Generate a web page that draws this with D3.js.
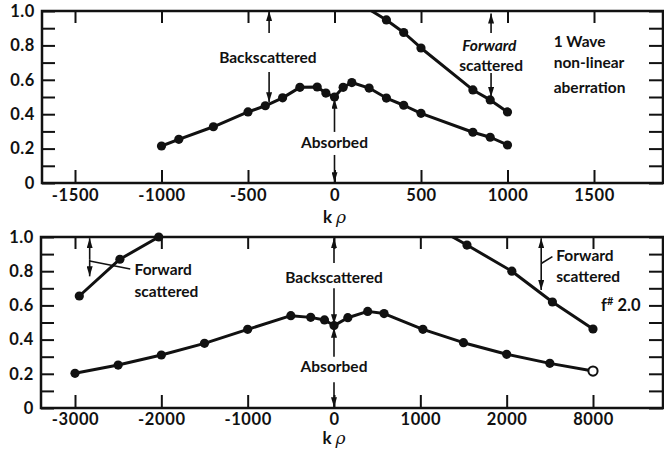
<!DOCTYPE html>
<html>
<head>
<meta charset="utf-8">
<script src="https://cdn.jsdelivr.net/npm/d3@7/dist/d3.min.js"></script>
<style>
  html, body { margin: 0; padding: 0; background: #fff; }
  svg { display: block; }
  text { font-family: Lato, "DejaVu Sans", sans-serif; font-weight: 700; fill: #111; }
</style>
</head>
<body>
<svg id="chart" width="664" height="453"></svg>
<script>
// ---- 1 wave non-linear aberration (upper panel) ----
const topAbsK   = [-1000, -900, -700, -500, -400, -300, -200, -100, -50, 0, 50, 100, 200, 300, 400, 500, 800, 900, 1000];
const topAbsV   = [0.215, 0.254, 0.327, 0.413, 0.449, 0.495, 0.556, 0.558, 0.523, 0.50, 0.556, 0.584, 0.552, 0.494, 0.452, 0.405, 0.295, 0.266, 0.221];
const topFwdK   = [150, 300, 400, 500, 800, 900, 1000];
const topFwdV   = [1.04, 0.948, 0.875, 0.785, 0.541, 0.483, 0.413];
const topXTicks = [-1500, -1000, -500, 0, 500, 1000, 1500];

// ---- f# 2.0 (lower panel) ----
const botAbsK   = [-3000, -2500, -2000, -1500, -1000, -500, -270, -110, 0, 160, 390, 580, 1030, 1500, 2000, 2500, 3000];
const botAbsV   = [0.203, 0.251, 0.31, 0.378, 0.46, 0.54, 0.53, 0.515, 0.482, 0.528, 0.565, 0.552, 0.46, 0.382, 0.314, 0.261, 0.216];
const botFwdLK  = [-2950, -2480, -2030];
const botFwdLV  = [0.655, 0.87, 1.0];
const botFwdRK  = [1200, 1540, 2060, 2530, 3000];
const botFwdRV  = [1.05, 0.953, 0.80, 0.62, 0.462];
const botXTicks = [-3000, -2000, -1000, 0, 1000, 2000, 3000];
const botXLabels = ["-3000", "-2000", "-1000", "0", "1000", "2000", "8000"];

const yTicks = [0, 0.1, 0.2, 0.3, 0.4, 0.5, 0.6, 0.7, 0.8, 0.9, 1.0];
const yLabels = {0: "0", 0.2: "0.2", 0.4: "0.4", 0.6: "0.6", 0.8: "0.8", 1: "1.0"};

const svg = d3.select("#chart");
const FONT = 'Lato, "DejaVu Sans", sans-serif';

// arrowhead
const defs = svg.append("defs");
defs.append("marker")
  .attr("id", "head")
  .attr("viewBox", "0 0 10 6")
  .attr("refX", 10).attr("refY", 3)
  .attr("markerWidth", 10).attr("markerHeight", 6)
  .attr("markerUnits", "userSpaceOnUse")
  .attr("orient", "auto-start-reverse")
  .append("path").attr("d", "M0,0 L10,3 L0,6 Z").attr("fill", "#111");

function panel(opts) {
  const { id, left, right, top, bottom, xDomain, xTicks, xFormat } = opts;
  const x = d3.scaleLinear().domain(xDomain.d).range(xDomain.r);
  const y = d3.scaleLinear().domain([0, 1]).range([bottom, top]);
  const g = svg.append("g");

  defs.append("clipPath").attr("id", "clip-" + id)
    .append("rect").attr("x", left).attr("y", top)
    .attr("width", right - left).attr("height", bottom - top);

  const styleAxis = sel => {
    sel.select(".domain").remove();
    sel.selectAll("line").attr("stroke", "#111").attr("stroke-width", 2);
    sel.selectAll("text").attr("font-family", FONT).attr("font-size", 16.5)
      .attr("letter-spacing", 0.6)
      .attr("font-weight", 700).attr("fill", "#111");
  };

  g.append("g").attr("transform", `translate(0,${bottom})`)
    .call(d3.axisBottom(x).tickValues(xTicks).tickSize(-13).tickPadding(opts.xPad).tickFormat(xFormat))
    .call(styleAxis);
  g.append("g").attr("transform", `translate(0,${top})`)
    .call(d3.axisTop(x).tickValues(xTicks).tickSize(-12).tickFormat(""))
    .call(styleAxis);
  g.append("g").attr("transform", `translate(${left},0)`)
    .call(d3.axisLeft(y).tickValues(yTicks).tickSize(-13).tickPadding(7)
      .tickFormat(d => yLabels[Math.round(d * 10) / 10] || ""))
    .call(styleAxis);
  g.append("g").attr("transform", `translate(${right},0)`)
    .call(d3.axisRight(y).tickValues(yTicks).tickSize(-14).tickFormat(""))
    .call(styleAxis);

  // frame
  g.append("rect").attr("x", left).attr("y", top)
    .attr("width", right - left).attr("height", bottom - top)
    .attr("fill", "none").attr("stroke", "#111").attr("stroke-width", 2.5);

  const line = d3.line().x(d => x(d.k)).y(d => y(d.v));
  const series = (ks, vs, openLast) => {
    const pts = ks.map((k, i) => ({ k, v: vs[i], open: openLast && i === ks.length - 1 }));
    g.append("path").datum(pts).attr("d", line)
      .attr("clip-path", `url(#clip-${id})`)
      .attr("fill", "none").attr("stroke", "#111").attr("stroke-width", 3)
      .attr("stroke-linejoin", "round");
    g.selectAll(null).data(pts.filter(d => d.v <= 1.0)).enter().append("circle")
      .attr("cx", d => x(d.k)).attr("cy", d => y(d.v)).attr("r", 4.6)
      .attr("fill", d => d.open ? "#fff" : "#111")
      .attr("stroke", "#111").attr("stroke-width", d => d.open ? 2 : 0);
  };

  const arrow = (k, v0, v1, both) => {
    g.append("line")
      .attr("x1", x(k)).attr("x2", x(k)).attr("y1", y(v0)).attr("y2", y(v1))
      .attr("stroke", "#111").attr("stroke-width", 1.6)
      .attr("marker-end", "url(#head)")
      .attr("marker-start", both ? "url(#head)" : null);
  };
  const seg = (k0, v0, k1, v1) => {
    g.append("line").attr("x1", x(k0)).attr("y1", y(v0)).attr("x2", x(k1)).attr("y2", y(v1))
      .attr("stroke", "#111").attr("stroke-width", 1.6);
  };
  const label = (txt, k, v, anchor, italic) => {
    return g.append("text").attr("x", x(k)).attr("y", y(v))
      .attr("dy", "0.35em").attr("text-anchor", anchor || "middle")
      .attr("font-size", 15.5).attr("font-style", italic ? "italic" : null)
      .text(txt);
  };
  // axis title kρ
  const t = g.append("text").attr("x", x(0)).attr("y", opts.titleY)
    .attr("dy", "0.35em").attr("text-anchor", "middle").attr("font-size", 17);
  t.append("tspan").text("k ");
  t.append("tspan").attr("font-style", "italic").attr("font-family", "DejaVu Serif, serif").attr("font-weight", 400).text("ρ");

  return { x, y, g, series, arrow, seg, label };
}

// upper panel
const P1 = panel({
  id: "p1", left: 42, right: 663, top: 11, bottom: 183,
  xDomain: { d: [-1500, 1500], r: [75, 594] }, xTicks: topXTicks,
  xFormat: d => String(d), titleY: 217, xPad: 6
});
P1.series(topAbsK, topAbsV, false);
P1.series(topFwdK, topFwdV, false);
P1.label("Backscattered", -385, 0.727);
P1.arrow(-378, 0.872, 1.0);
P1.arrow(-378, 0.645, 0.47);
P1.label("Absorbed", 0, 0.233);
P1.arrow(0, 0.297, 0.49);
P1.arrow(0, 0.163, 0.005);
P1.label("Forward", 895, 0.80, "middle", true);
P1.label("scattered", 905, 0.68);
P1.arrow(905, 0.872, 0.985);
P1.arrow(905, 0.64, 0.50);
P1.label("1 Wave", 1267, 0.82, "start");
P1.label("non-linear", 1267, 0.70, "start");
P1.label("aberration", 1267, 0.555, "start");

// lower panel
const P2 = panel({
  id: "p2", left: 41, right: 663, top: 237, bottom: 408,
  xDomain: { d: [-3000, 3000], r: [75, 593] }, xTicks: botXTicks,
  xFormat: d => botXLabels[botXTicks.indexOf(d)], titleY: 438, xPad: 5
});
P2.series(botAbsK, botAbsV, true);
P2.series(botFwdLK, botFwdLV, false);
P2.series(botFwdRK, botFwdRV, false);

P2.arrow(-2830, 0.87, 0.993, false);
P2.arrow(-2830, 0.87, 0.77, false);
P2.seg(-2830, 0.86, -2360, 0.813);
P2.label("Forward", -2310, 0.807, "start");
P2.label("scattered", -2310, 0.678, "start");

P2.label("Backscattered", 0, 0.76);
P2.arrow(0, 0.848, 0.993);
P2.arrow(0, 0.70, 0.49);
P2.label("Absorbed", 0, 0.24);
P2.arrow(0, 0.30, 0.47);
P2.arrow(0, 0.15, 0.005);

P2.arrow(2400, 0.85, 0.993);
P2.arrow(2400, 0.85, 0.69);
P2.seg(2400, 0.845, 2530, 0.885);
P2.label("Forward", 2575, 0.889, "start");
P2.label("scattered", 2575, 0.766, "start");
const fl = P2.label("", 3550, 0.602, "end");
fl.attr("font-size", 16.5);
fl.append("tspan").text("f");
fl.append("tspan").attr("font-size", 11).attr("dy", -6).text("#");
fl.append("tspan").attr("dy", 6).text(" 2.0");
</script>
</body>
</html>
